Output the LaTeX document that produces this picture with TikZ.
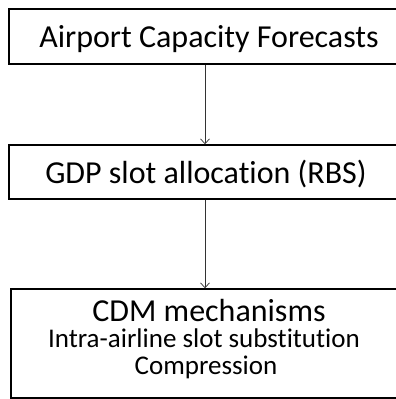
\documentclass[tikz,border=0pt]{standalone}
\usepackage{fontspec}
\setmainfont{Carlito}[Ligatures=NoCommon,RawFeature={-liga;-clig;-dlig}]
\usetikzlibrary{arrows.meta}
\begin{document}
\begin{tikzpicture}[x=1pt,y=1pt,
  box/.style={draw=black,line width=1.4pt,fill=white},
  head/.style={font=\fontsize{32}{36}\selectfont,inner sep=0pt,anchor=base},
  sub/.style={font=\fontsize{27}{30}\selectfont,inner sep=0pt,anchor=base},
  conn/.style={draw=black!80,line width=0.7pt,-{Straight Barb[length=5pt,width=9pt,line width=0.7pt]}}]
\useasboundingbox (0,0) rectangle (396,-399);
\begin{scope}
\clip (0,0) rectangle (396,-399);
\draw[box] (9,-9) rectangle (405,-64);
\draw[box] (9,-145) rectangle (405,-199);
\draw[box] (11,-289) rectangle (405,-398);
\node[head] (t1) at (209,-47) {Airport Capacity Forecasts};
\node[head] (t2) at (206,-183) {GDP slot allocation (RBS)};
\node[head] (t3) at (209,-321) {CDM mechanisms};
\node[sub] (t4) at (204,-347) {Intra-airline slot substitution};
\node[sub] (t5) at (206,-374) {Compression};
\coordinate (a1) at (205,-64.7);
\coordinate (a2) at (205,-144.3);
\coordinate (b1) at (205,-199.7);
\coordinate (b2) at (205,-288.3);
\draw[conn] (a1) -- (a2);
\draw[conn] (b1) -- (b2);
\end{scope}
\end{tikzpicture}
\end{document}
